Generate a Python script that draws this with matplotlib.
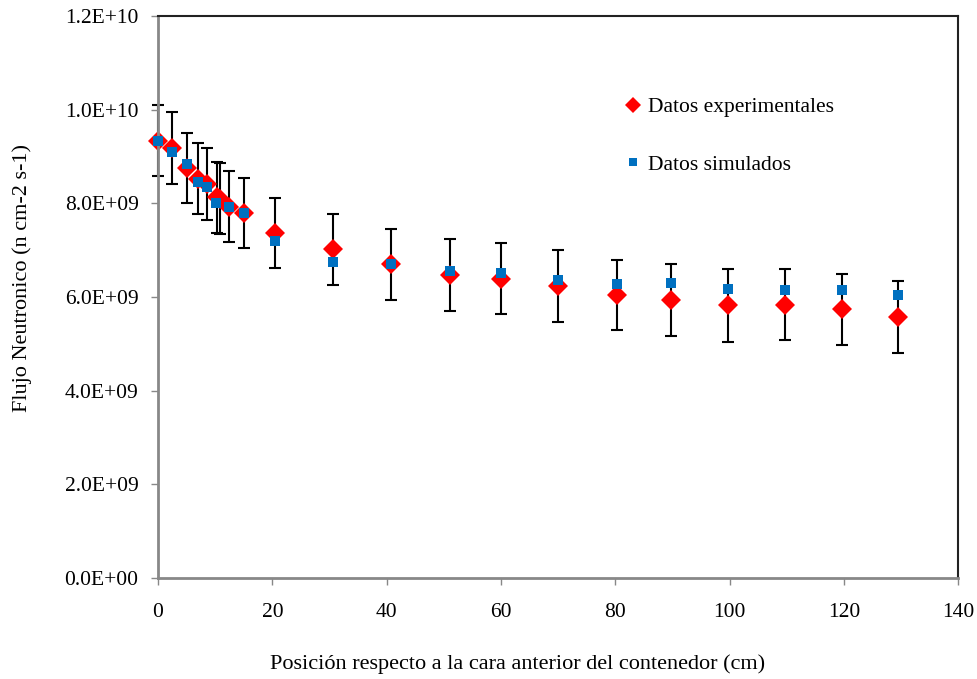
import matplotlib.pyplot as plt

# Datos
x_exp = [0, 2.5, 5, 7, 8.6, 10.3, 10.8, 12.5, 15, 20.4, 30.6, 40.8, 51, 60, 70, 80.3, 89.8, 99.7, 109.6, 119.6, 129.5]
y_exp = [9.34e9, 9.18e9, 8.76e9, 8.53e9, 8.41e9, 8.13e9, 8.10e9, 7.93e9, 7.80e9, 7.37e9, 7.02e9, 6.70e9,
         6.47e9, 6.39e9, 6.24e9, 6.04e9, 5.94e9, 5.82e9, 5.84e9, 5.74e9, 5.58e9]
err_exp = [0.755e9, 0.765e9, 0.75e9, 0.76e9, 0.765e9, 0.755e9, 0.755e9, 0.755e9, 0.75e9, 0.755e9, 0.755e9,
           0.755e9, 0.765e9, 0.755e9, 0.765e9, 0.75e9, 0.77e9, 0.77e9, 0.765e9, 0.755e9, 0.77e9]

x_sim = [0, 2.5, 5, 7, 8.6, 10.2, 12.5, 15, 20.4, 30.6, 40.8, 51, 60, 70, 80.3, 89.8, 99.7, 109.6, 119.6, 129.5]
y_sim = [9.33e9, 9.10e9, 8.85e9, 8.46e9, 8.36e9, 8.00e9, 7.93e9, 7.80e9, 7.20e9, 6.75e9, 6.70e9,
         6.56e9, 6.51e9, 6.36e9, 6.27e9, 6.31e9, 6.18e9, 6.14e9, 6.14e9, 6.05e9]

yticks = [0, 2e9, 4e9, 6e9, 8e9, 1e10, 1.2e10]
ytick_labels = ["0.0E+00", "2.0E+09", "4.0E+09", "6.0E+09", "8.0E+09", "1.0E+10", "1.2E+10"]

plt.rcParams['font.family'] = ['Liberation Serif', 'DejaVu Serif']

fig = plt.figure(figsize=(9.77, 6.79), dpi=100)
ax = fig.add_axes([0.1617, 0.1487, 0.8192, 0.8277])

# barras de error
ax.errorbar(x_exp, y_exp, yerr=err_exp, fmt='none', ecolor='black', elinewidth=1.5,
            capsize=4, capthick=1.5, zorder=1, clip_on=False)
ax.plot(x_exp, y_exp, 'D', color='#ff0000', markersize=10, markeredgewidth=0,
        label='Datos experimentales', zorder=2, clip_on=False)
ax.plot(x_sim, y_sim, 's', color='#0070c0', markersize=7, markeredgewidth=0,
        label='Datos simulados', zorder=3, clip_on=False)

ax.set_xlim(0, 140)
ax.set_ylim(0, 1.2e10)
ax.set_xticks(range(0, 141, 20))
ax.set_yticks(yticks)
ax.set_yticklabels(ytick_labels)
ax.tick_params(labelsize=15.5, colors='black', length=5, width=1)
ax.tick_params(axis='both', color='#888888')
ax.tick_params(axis='x', pad=13)
ax.tick_params(axis='y', pad=9)

for s in ['left', 'bottom']:
    ax.spines[s].set_color('#888888')
    ax.spines[s].set_linewidth(2)
for s in ['top', 'right']:
    ax.spines[s].set_color('#222222')
    ax.spines[s].set_linewidth(1.5)

ax.set_xlabel("Posición respecto a la cara anterior del contenedor (cm)", fontsize=16)
ax.set_ylabel("Flujo Neutronico (n cm-2 s-1)", fontsize=16)
ax.xaxis.set_label_coords(0.449, -0.135)
ax.yaxis.set_label_coords(-0.157, 0.534)

ax.legend(frameon=False, loc='upper left', bbox_to_anchor=(0.553, 0.89),
          fontsize=15.5, labelspacing=1.75, handletextpad=0.1, handlelength=1.2, markerscale=0.85)

plt.savefig("out.png", dpi=100)
